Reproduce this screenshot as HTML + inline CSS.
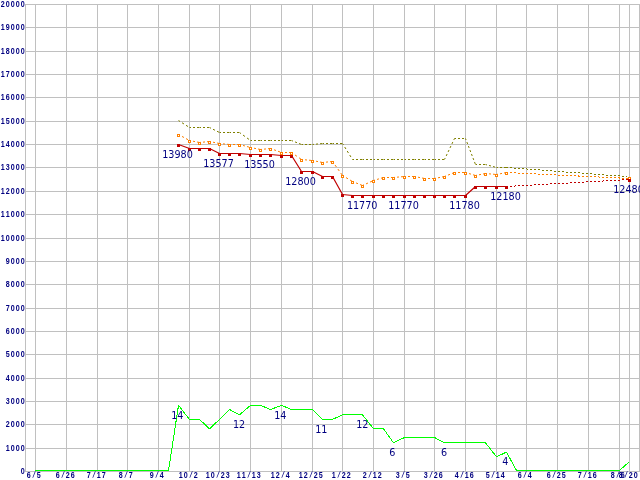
<!DOCTYPE html>
<html><head><meta charset="utf-8"><title>chart</title>
<style>html,body{margin:0;padding:0;background:#fff;overflow:hidden}svg{display:block}#w{width:640px;height:480px;will-change:transform}.ax{font-family:"Liberation Sans","DejaVu Sans",sans-serif;font-weight:bold;font-size:8.2px;fill:#000080}.sl{font-family:"DejaVu Sans Mono","Liberation Mono",monospace;font-size:7.8px}.lb{font-family:"DejaVu Sans Condensed","Liberation Sans",sans-serif;font-size:10.7px;fill:#000080}</style></head><body><div id="w">
<svg width="640" height="480" viewBox="0 0 640 480">
<g fill="#c0c0c0" shape-rendering="crispEdges">
<rect x="25" y="4" width="615" height="1"/>
<rect x="25" y="27" width="615" height="1"/>
<rect x="25" y="51" width="615" height="1"/>
<rect x="25" y="74" width="615" height="1"/>
<rect x="25" y="97" width="615" height="1"/>
<rect x="25" y="121" width="615" height="1"/>
<rect x="25" y="144" width="615" height="1"/>
<rect x="25" y="167" width="615" height="1"/>
<rect x="25" y="191" width="615" height="1"/>
<rect x="25" y="214" width="615" height="1"/>
<rect x="25" y="238" width="615" height="1"/>
<rect x="25" y="261" width="615" height="1"/>
<rect x="25" y="284" width="615" height="1"/>
<rect x="25" y="308" width="615" height="1"/>
<rect x="25" y="331" width="615" height="1"/>
<rect x="25" y="354" width="615" height="1"/>
<rect x="25" y="378" width="615" height="1"/>
<rect x="25" y="401" width="615" height="1"/>
<rect x="25" y="424" width="615" height="1"/>
<rect x="25" y="448" width="615" height="1"/>
<rect x="25" y="471" width="615" height="1"/>
<rect x="25" y="4" width="1" height="468"/>
<rect x="639" y="4" width="1" height="468"/>
<rect x="35" y="4" width="1" height="468"/>
<rect x="66" y="4" width="1" height="468"/>
<rect x="97" y="4" width="1" height="468"/>
<rect x="127" y="4" width="1" height="468"/>
<rect x="158" y="4" width="1" height="468"/>
<rect x="189" y="4" width="1" height="468"/>
<rect x="219" y="4" width="1" height="468"/>
<rect x="250" y="4" width="1" height="468"/>
<rect x="281" y="4" width="1" height="468"/>
<rect x="312" y="4" width="1" height="468"/>
<rect x="342" y="4" width="1" height="468"/>
<rect x="373" y="4" width="1" height="468"/>
<rect x="404" y="4" width="1" height="468"/>
<rect x="434" y="4" width="1" height="468"/>
<rect x="465" y="4" width="1" height="468"/>
<rect x="496" y="4" width="1" height="468"/>
<rect x="526" y="4" width="1" height="468"/>
<rect x="557" y="4" width="1" height="468"/>
<rect x="588" y="4" width="1" height="468"/>
<rect x="619" y="4" width="1" height="468"/>
<rect x="629" y="4" width="1" height="468"/>
</g>
<g class="ax" transform="scale(0.87,1)">
<text x="0.80 6.55 12.30 18.05 23.79" y="7">20000</text>
<text x="0.80 6.55 12.30 18.05 23.79" y="30">19000</text>
<text x="0.80 6.55 12.30 18.05 23.79" y="54">18000</text>
<text x="0.80 6.55 12.30 18.05 23.79" y="77">17000</text>
<text x="0.80 6.55 12.30 18.05 23.79" y="100">16000</text>
<text x="0.80 6.55 12.30 18.05 23.79" y="124">15000</text>
<text x="0.80 6.55 12.30 18.05 23.79" y="147">14000</text>
<text x="0.80 6.55 12.30 18.05 23.79" y="170">13000</text>
<text x="0.80 6.55 12.30 18.05 23.79" y="194">12000</text>
<text x="0.80 6.55 12.30 18.05 23.79" y="217">11000</text>
<text x="0.80 6.55 12.30 18.05 23.79" y="241">10000</text>
<text x="6.55 12.30 18.05 23.79" y="264">9000</text>
<text x="6.55 12.30 18.05 23.79" y="287">8000</text>
<text x="6.55 12.30 18.05 23.79" y="311">7000</text>
<text x="6.55 12.30 18.05 23.79" y="334">6000</text>
<text x="6.55 12.30 18.05 23.79" y="357">5000</text>
<text x="6.55 12.30 18.05 23.79" y="381">4000</text>
<text x="6.55 12.30 18.05 23.79" y="404">3000</text>
<text x="6.55 12.30 18.05 23.79" y="427">2000</text>
<text x="6.55 12.30 18.05 23.79" y="451">1000</text>
<text x="23.79" y="474">0</text>
</g>
<g class="ax" transform="scale(0.87,1)">
<text x="30.69 36.67 42.18" y="478 477.3 478">6<tspan class="sl">/</tspan>5</text>
<text x="64.02 70.00 75.52 81.26" y="478 477.3 478 478">6<tspan class="sl">/</tspan>26</text>
<text x="99.66 105.63 111.15 116.90" y="478 477.3 478 478">7<tspan class="sl">/</tspan>17</text>
<text x="136.44 142.41 147.93" y="478 477.3 478">8<tspan class="sl">/</tspan>7</text>
<text x="172.07 178.05 183.56" y="478 477.3 478">9<tspan class="sl">/</tspan>4</text>
<text x="205.40 211.15 217.13 222.64" y="478 478 477.3 478">10<tspan class="sl">/</tspan>2</text>
<text x="236.44 242.18 248.16 253.68 259.43" y="478 478 477.3 478 478">10<tspan class="sl">/</tspan>23</text>
<text x="272.07 277.82 283.79 289.31 295.06" y="478 478 477.3 478 478">11<tspan class="sl">/</tspan>13</text>
<text x="311.15 316.90 322.87 328.39" y="478 478 477.3 478">12<tspan class="sl">/</tspan>4</text>
<text x="343.33 349.08 355.06 360.57 366.32" y="478 478 477.3 478 478">12<tspan class="sl">/</tspan>25</text>
<text x="381.26 387.24 392.76 398.51" y="478 477.3 478 478">1<tspan class="sl">/</tspan>22</text>
<text x="416.90 422.87 428.39 434.14" y="478 477.3 478 478">2<tspan class="sl">/</tspan>12</text>
<text x="454.83 460.80 466.32" y="478 477.3 478">3<tspan class="sl">/</tspan>5</text>
<text x="487.01 492.99 498.51 504.25" y="478 477.3 478 478">3<tspan class="sl">/</tspan>26</text>
<text x="522.64 528.62 534.14 539.89" y="478 477.3 478 478">4<tspan class="sl">/</tspan>16</text>
<text x="558.28 564.25 569.77 575.52" y="478 477.3 478 478">5<tspan class="sl">/</tspan>14</text>
<text x="595.06 601.03 606.55" y="478 477.3 478">6<tspan class="sl">/</tspan>4</text>
<text x="628.39 634.37 639.89 645.63" y="478 477.3 478 478">6<tspan class="sl">/</tspan>25</text>
<text x="664.02 670.00 675.52 681.26" y="478 477.3 478 478">7<tspan class="sl">/</tspan>16</text>
<text x="701.95 707.93 713.45" y="478 477.3 478">8<tspan class="sl">/</tspan>6</text>
<text x="711.15 717.13 722.64 728.39" y="478 477.3 478 478">8<tspan class="sl">/</tspan>20</text>
</g>
<polyline points="35.0,470.5 45.5,470.5 55.5,470.5 66.5,470.5 76.5,470.5 86.5,470.5 97.5,470.5 107.5,470.5 117.5,470.5 127.5,470.5 137.5,470.5 147.5,470.5 158.5,470.5 168.5,470.5 178.5,405.4 189.5,419.4 199.5,419.4 209.5,428.8 219.5,419.4 229.5,409.5 239.5,414.8 250.5,405.4 260.5,405.4 270.5,409.5 281.5,405.4 291.5,409.5 301.5,409.5 312.5,409.5 322.5,419.4 332.5,419.4 342.5,414.8 352.5,414.8 362.5,414.8 373.5,428.8 383.5,428.8 393.5,442.8 404.5,437.5 414.5,437.5 424.5,437.5 434.5,437.5 444.5,442.8 454.5,442.8 465.5,442.8 475.5,442.8 485.5,442.8 496.5,456.8 506.5,452.1 516.5,470.5 526.5,470.5 536.5,470.5 546.5,470.5 557.5,470.5 567.5,470.5 577.5,470.5 588.5,470.5 598.5,470.5 608.5,470.5 619.5,470.5 629.5,461.5" fill="none" stroke="#00ff00" stroke-width="1" shape-rendering="crispEdges"/>
<g stroke="#808000" stroke-width="1" fill="none">
<line x1="178.5" y1="120.5" x2="189.5" y2="127.5" stroke-dasharray="2.37 2.37" stroke-dashoffset="0.59"/>
<line x1="189.5" y1="127.5" x2="199.5" y2="127.5" stroke-dasharray="2.00 2.00" stroke-dashoffset="0.50"/>
<line x1="199.5" y1="127.5" x2="209.5" y2="127.5" stroke-dasharray="2.00 2.00" stroke-dashoffset="0.50"/>
<line x1="209.5" y1="127.5" x2="219.5" y2="132.5" stroke-dasharray="2.24 2.24" stroke-dashoffset="0.56"/>
<line x1="219.5" y1="132.5" x2="229.5" y2="132.5" stroke-dasharray="2.00 2.00" stroke-dashoffset="0.50"/>
<line x1="229.5" y1="132.5" x2="239.5" y2="132.5" stroke-dasharray="2.00 2.00" stroke-dashoffset="0.50"/>
<line x1="239.5" y1="132.5" x2="250.5" y2="140.5" stroke-dasharray="2.47 2.47" stroke-dashoffset="0.62"/>
<line x1="250.5" y1="140.5" x2="260.5" y2="140.5" stroke-dasharray="2.00 2.00" stroke-dashoffset="0.50"/>
<line x1="260.5" y1="140.5" x2="270.5" y2="140.5" stroke-dasharray="2.00 2.00" stroke-dashoffset="0.50"/>
<line x1="270.5" y1="140.5" x2="281.5" y2="140.5" stroke-dasharray="2.00 2.00" stroke-dashoffset="0.50"/>
<line x1="281.5" y1="140.5" x2="291.5" y2="140.5" stroke-dasharray="2.00 2.00" stroke-dashoffset="0.50"/>
<line x1="291.5" y1="140.5" x2="301.5" y2="144.5" stroke-dasharray="2.15 2.15" stroke-dashoffset="0.54"/>
<line x1="301.5" y1="144.5" x2="312.5" y2="144.5" stroke-dasharray="2.00 2.00" stroke-dashoffset="0.50"/>
<line x1="312.5" y1="144.5" x2="322.5" y2="143.5" stroke-dasharray="2.01 2.01" stroke-dashoffset="0.50"/>
<line x1="322.5" y1="143.5" x2="332.5" y2="143.5" stroke-dasharray="2.00 2.00" stroke-dashoffset="0.50"/>
<line x1="332.5" y1="143.5" x2="342.5" y2="143.5" stroke-dasharray="2.00 2.00" stroke-dashoffset="0.50"/>
<line x1="342.5" y1="143.5" x2="352.5" y2="159.5" stroke-dasharray="2.36 2.36" stroke-dashoffset="0.59"/>
<line x1="352.5" y1="159.5" x2="362.5" y2="159.5" stroke-dasharray="2.00 2.00" stroke-dashoffset="0.50"/>
<line x1="362.5" y1="159.5" x2="373.5" y2="159.5" stroke-dasharray="2.00 2.00" stroke-dashoffset="0.50"/>
<line x1="373.5" y1="159.5" x2="383.5" y2="159.5" stroke-dasharray="2.00 2.00" stroke-dashoffset="0.50"/>
<line x1="383.5" y1="159.5" x2="393.5" y2="159.5" stroke-dasharray="2.00 2.00" stroke-dashoffset="0.50"/>
<line x1="393.5" y1="159.5" x2="404.5" y2="159.5" stroke-dasharray="2.00 2.00" stroke-dashoffset="0.50"/>
<line x1="404.5" y1="159.5" x2="414.5" y2="159.5" stroke-dasharray="2.00 2.00" stroke-dashoffset="0.50"/>
<line x1="414.5" y1="159.5" x2="424.5" y2="159.5" stroke-dasharray="2.00 2.00" stroke-dashoffset="0.50"/>
<line x1="424.5" y1="159.5" x2="434.5" y2="159.5" stroke-dasharray="2.00 2.00" stroke-dashoffset="0.50"/>
<line x1="434.5" y1="159.5" x2="444.5" y2="159.5" stroke-dasharray="2.00 2.00" stroke-dashoffset="0.50"/>
<line x1="444.5" y1="159.5" x2="454.5" y2="138.5" stroke-dasharray="2.22 2.22" stroke-dashoffset="0.55"/>
<line x1="454.5" y1="138.5" x2="465.5" y2="138.5" stroke-dasharray="2.00 2.00" stroke-dashoffset="0.50"/>
<line x1="465.5" y1="138.5" x2="475.5" y2="164.5" stroke-dasharray="2.14 2.14" stroke-dashoffset="0.54"/>
<line x1="475.5" y1="164.5" x2="485.5" y2="164.5" stroke-dasharray="2.00 2.00" stroke-dashoffset="0.50"/>
<line x1="485.5" y1="164.5" x2="496.5" y2="167.5" stroke-dasharray="2.07 2.07" stroke-dashoffset="0.52"/>
<line x1="496.5" y1="167.5" x2="506.5" y2="167.5" stroke-dasharray="2.00 2.00" stroke-dashoffset="0.50"/>
</g>
<line x1="506.5" y1="167.5" x2="627.5" y2="176.6" stroke="#808000" stroke-width="1" stroke-dasharray="2 2" stroke-dashoffset="0.5" shape-rendering="crispEdges"/>
<g stroke="#ff8000" stroke-width="1" fill="none">
<line x1="178.5" y1="134.5" x2="189.5" y2="140.5" stroke-dasharray="2.28 2.28" stroke-dashoffset="0.57"/>
<line x1="189.5" y1="140.5" x2="199.5" y2="142.5" stroke-dasharray="2.04 2.04" stroke-dashoffset="0.51"/>
<line x1="199.5" y1="142.5" x2="209.5" y2="141.5" stroke-dasharray="2.01 2.01" stroke-dashoffset="0.50"/>
<line x1="209.5" y1="141.5" x2="219.5" y2="143.5" stroke-dasharray="2.04 2.04" stroke-dashoffset="0.51"/>
<line x1="219.5" y1="143.5" x2="229.5" y2="144.5" stroke-dasharray="2.01 2.01" stroke-dashoffset="0.50"/>
<line x1="229.5" y1="144.5" x2="239.5" y2="144.5" stroke-dasharray="2.00 2.00" stroke-dashoffset="0.50"/>
<line x1="239.5" y1="144.5" x2="250.5" y2="147.5" stroke-dasharray="2.07 2.07" stroke-dashoffset="0.52"/>
<line x1="250.5" y1="147.5" x2="260.5" y2="149.5" stroke-dasharray="2.04 2.04" stroke-dashoffset="0.51"/>
<line x1="260.5" y1="149.5" x2="270.5" y2="148.5" stroke-dasharray="2.01 2.01" stroke-dashoffset="0.50"/>
<line x1="270.5" y1="148.5" x2="281.5" y2="152.5" stroke-dasharray="2.13 2.13" stroke-dashoffset="0.53"/>
<line x1="281.5" y1="152.5" x2="291.5" y2="152.5" stroke-dasharray="2.00 2.00" stroke-dashoffset="0.50"/>
<line x1="291.5" y1="152.5" x2="301.5" y2="159.5" stroke-dasharray="2.44 2.44" stroke-dashoffset="0.61"/>
<line x1="301.5" y1="159.5" x2="312.5" y2="160.5" stroke-dasharray="2.01 2.01" stroke-dashoffset="0.50"/>
<line x1="312.5" y1="160.5" x2="322.5" y2="162.5" stroke-dasharray="2.04 2.04" stroke-dashoffset="0.51"/>
<line x1="322.5" y1="162.5" x2="332.5" y2="161.5" stroke-dasharray="2.01 2.01" stroke-dashoffset="0.50"/>
<line x1="332.5" y1="161.5" x2="342.5" y2="175.5" stroke-dasharray="2.46 2.46" stroke-dashoffset="0.61"/>
<line x1="342.5" y1="175.5" x2="352.5" y2="181.5" stroke-dasharray="2.33 2.33" stroke-dashoffset="0.58"/>
<line x1="352.5" y1="181.5" x2="362.5" y2="185.5" stroke-dasharray="2.15 2.15" stroke-dashoffset="0.54"/>
<line x1="362.5" y1="185.5" x2="373.5" y2="180.5" stroke-dasharray="2.20 2.20" stroke-dashoffset="0.55"/>
<line x1="373.5" y1="180.5" x2="383.5" y2="177.5" stroke-dasharray="2.09 2.09" stroke-dashoffset="0.52"/>
<line x1="383.5" y1="177.5" x2="393.5" y2="177.5" stroke-dasharray="2.00 2.00" stroke-dashoffset="0.50"/>
<line x1="393.5" y1="177.5" x2="404.5" y2="176.5" stroke-dasharray="2.01 2.01" stroke-dashoffset="0.50"/>
<line x1="404.5" y1="176.5" x2="414.5" y2="176.5" stroke-dasharray="2.00 2.00" stroke-dashoffset="0.50"/>
<line x1="414.5" y1="176.5" x2="424.5" y2="178.5" stroke-dasharray="2.04 2.04" stroke-dashoffset="0.51"/>
<line x1="424.5" y1="178.5" x2="434.5" y2="178.5" stroke-dasharray="2.00 2.00" stroke-dashoffset="0.50"/>
<line x1="434.5" y1="178.5" x2="444.5" y2="176.5" stroke-dasharray="2.04 2.04" stroke-dashoffset="0.51"/>
<line x1="444.5" y1="176.5" x2="454.5" y2="172.5" stroke-dasharray="2.15 2.15" stroke-dashoffset="0.54"/>
<line x1="454.5" y1="172.5" x2="465.5" y2="172.5" stroke-dasharray="2.00 2.00" stroke-dashoffset="0.50"/>
<line x1="465.5" y1="172.5" x2="475.5" y2="175.5" stroke-dasharray="2.09 2.09" stroke-dashoffset="0.52"/>
<line x1="475.5" y1="175.5" x2="485.5" y2="173.5" stroke-dasharray="2.04 2.04" stroke-dashoffset="0.51"/>
<line x1="485.5" y1="173.5" x2="496.5" y2="174.5" stroke-dasharray="2.01 2.01" stroke-dashoffset="0.50"/>
<line x1="496.5" y1="174.5" x2="506.5" y2="172.5" stroke-dasharray="2.04 2.04" stroke-dashoffset="0.51"/>
<line x1="506.5" y1="172.5" x2="629.5" y2="178.5" stroke-dasharray="2 2" stroke-dashoffset="0.5" shape-rendering="crispEdges"/>
</g>
<g stroke="#ff8000" stroke-width="1" fill="#ffffff" shape-rendering="crispEdges">
<rect x="177.5" y="134.5" width="2" height="2"/>
<rect x="188.5" y="140.5" width="2" height="2"/>
<rect x="198.5" y="142.5" width="2" height="2"/>
<rect x="208.5" y="141.5" width="2" height="2"/>
<rect x="218.5" y="143.5" width="2" height="2"/>
<rect x="228.5" y="144.5" width="2" height="2"/>
<rect x="238.5" y="144.5" width="2" height="2"/>
<rect x="249.5" y="147.5" width="2" height="2"/>
<rect x="259.5" y="149.5" width="2" height="2"/>
<rect x="269.5" y="148.5" width="2" height="2"/>
<rect x="280.5" y="152.5" width="2" height="2"/>
<rect x="290.5" y="152.5" width="2" height="2"/>
<rect x="300.5" y="159.5" width="2" height="2"/>
<rect x="311.5" y="160.5" width="2" height="2"/>
<rect x="321.5" y="162.5" width="2" height="2"/>
<rect x="331.5" y="161.5" width="2" height="2"/>
<rect x="341.5" y="175.5" width="2" height="2"/>
<rect x="351.5" y="181.5" width="2" height="2"/>
<rect x="361.5" y="185.5" width="2" height="2"/>
<rect x="372.5" y="180.5" width="2" height="2"/>
<rect x="382.5" y="177.5" width="2" height="2"/>
<rect x="392.5" y="177.5" width="2" height="2"/>
<rect x="403.5" y="176.5" width="2" height="2"/>
<rect x="413.5" y="176.5" width="2" height="2"/>
<rect x="423.5" y="178.5" width="2" height="2"/>
<rect x="433.5" y="178.5" width="2" height="2"/>
<rect x="443.5" y="176.5" width="2" height="2"/>
<rect x="453.5" y="172.5" width="2" height="2"/>
<rect x="464.5" y="172.5" width="2" height="2"/>
<rect x="474.5" y="175.5" width="2" height="2"/>
<rect x="484.5" y="173.5" width="2" height="2"/>
<rect x="495.5" y="174.5" width="2" height="2"/>
<rect x="505.5" y="172.5" width="2" height="2"/>
<rect x="628.5" y="177.5" width="2" height="2"/>
</g>
<polyline points="178.5,144.5 189.5,148.5 199.5,148.5 209.5,148.5 219.5,153.5 229.5,153.5 239.5,153.5 250.5,154.5 260.5,154.5 270.5,154.5 281.5,155.5 291.5,155.5 301.5,171.5 312.5,171.5 322.5,176.5 332.5,176.5 342.5,194.5 352.5,195.5 362.5,195.5 373.5,195.5 383.5,195.5 393.5,195.5 404.5,195.5 414.5,195.5 424.5,195.5 434.5,195.5 444.5,195.5 454.5,195.5 465.5,195.5 475.5,186.5 485.5,186.5 496.5,186.5 506.5,186.5" fill="none" stroke="#c00000" stroke-width="1.2" stroke-linejoin="round"/>
<line x1="506.5" y1="186.5" x2="629.5" y2="179.5" stroke="#c00000" stroke-width="1" stroke-dasharray="2 2" stroke-dashoffset="0.5" shape-rendering="crispEdges"/>
<g fill="#c00000" shape-rendering="crispEdges">
<rect x="177" y="144" width="3" height="3"/>
<rect x="188" y="148" width="3" height="3"/>
<rect x="198" y="148" width="3" height="3"/>
<rect x="208" y="148" width="3" height="3"/>
<rect x="218" y="153" width="3" height="3"/>
<rect x="228" y="153" width="3" height="3"/>
<rect x="238" y="153" width="3" height="3"/>
<rect x="249" y="154" width="3" height="3"/>
<rect x="259" y="154" width="3" height="3"/>
<rect x="269" y="154" width="3" height="3"/>
<rect x="280" y="155" width="3" height="3"/>
<rect x="290" y="155" width="3" height="3"/>
<rect x="300" y="171" width="3" height="3"/>
<rect x="311" y="171" width="3" height="3"/>
<rect x="321" y="176" width="3" height="3"/>
<rect x="331" y="176" width="3" height="3"/>
<rect x="341" y="194" width="3" height="3"/>
<rect x="351" y="195" width="3" height="3"/>
<rect x="361" y="195" width="3" height="3"/>
<rect x="372" y="195" width="3" height="3"/>
<rect x="382" y="195" width="3" height="3"/>
<rect x="392" y="195" width="3" height="3"/>
<rect x="403" y="195" width="3" height="3"/>
<rect x="413" y="195" width="3" height="3"/>
<rect x="423" y="195" width="3" height="3"/>
<rect x="433" y="195" width="3" height="3"/>
<rect x="443" y="195" width="3" height="3"/>
<rect x="453" y="195" width="3" height="3"/>
<rect x="464" y="195" width="3" height="3"/>
<rect x="474" y="186" width="3" height="3"/>
<rect x="484" y="186" width="3" height="3"/>
<rect x="495" y="186" width="3" height="3"/>
<rect x="505" y="186" width="3" height="3"/>
<rect x="628" y="179" width="3" height="3"/>
</g>
<g class="lb" text-anchor="middle">
<text x="177.5" y="158">13980</text>
<text x="218.5" y="167">13577</text>
<text x="259.5" y="168">13550</text>
<text x="300.5" y="185">12800</text>
<text x="362.2" y="209">11770</text>
<text x="403.5" y="209">11770</text>
<text x="464.5" y="209">11780</text>
<text x="505.5" y="200">12180</text>
<text x="628.5" y="193">12480</text>
<text x="177.3" y="419">14</text>
<text x="239.0" y="428">12</text>
<text x="280.3" y="419">14</text>
<text x="321.3" y="433">11</text>
<text x="362.3" y="428">12</text>
<text x="392.3" y="456">6</text>
<text x="444.1" y="456">6</text>
<text x="505.3" y="465">4</text>
</g>
</svg></div></body></html>
